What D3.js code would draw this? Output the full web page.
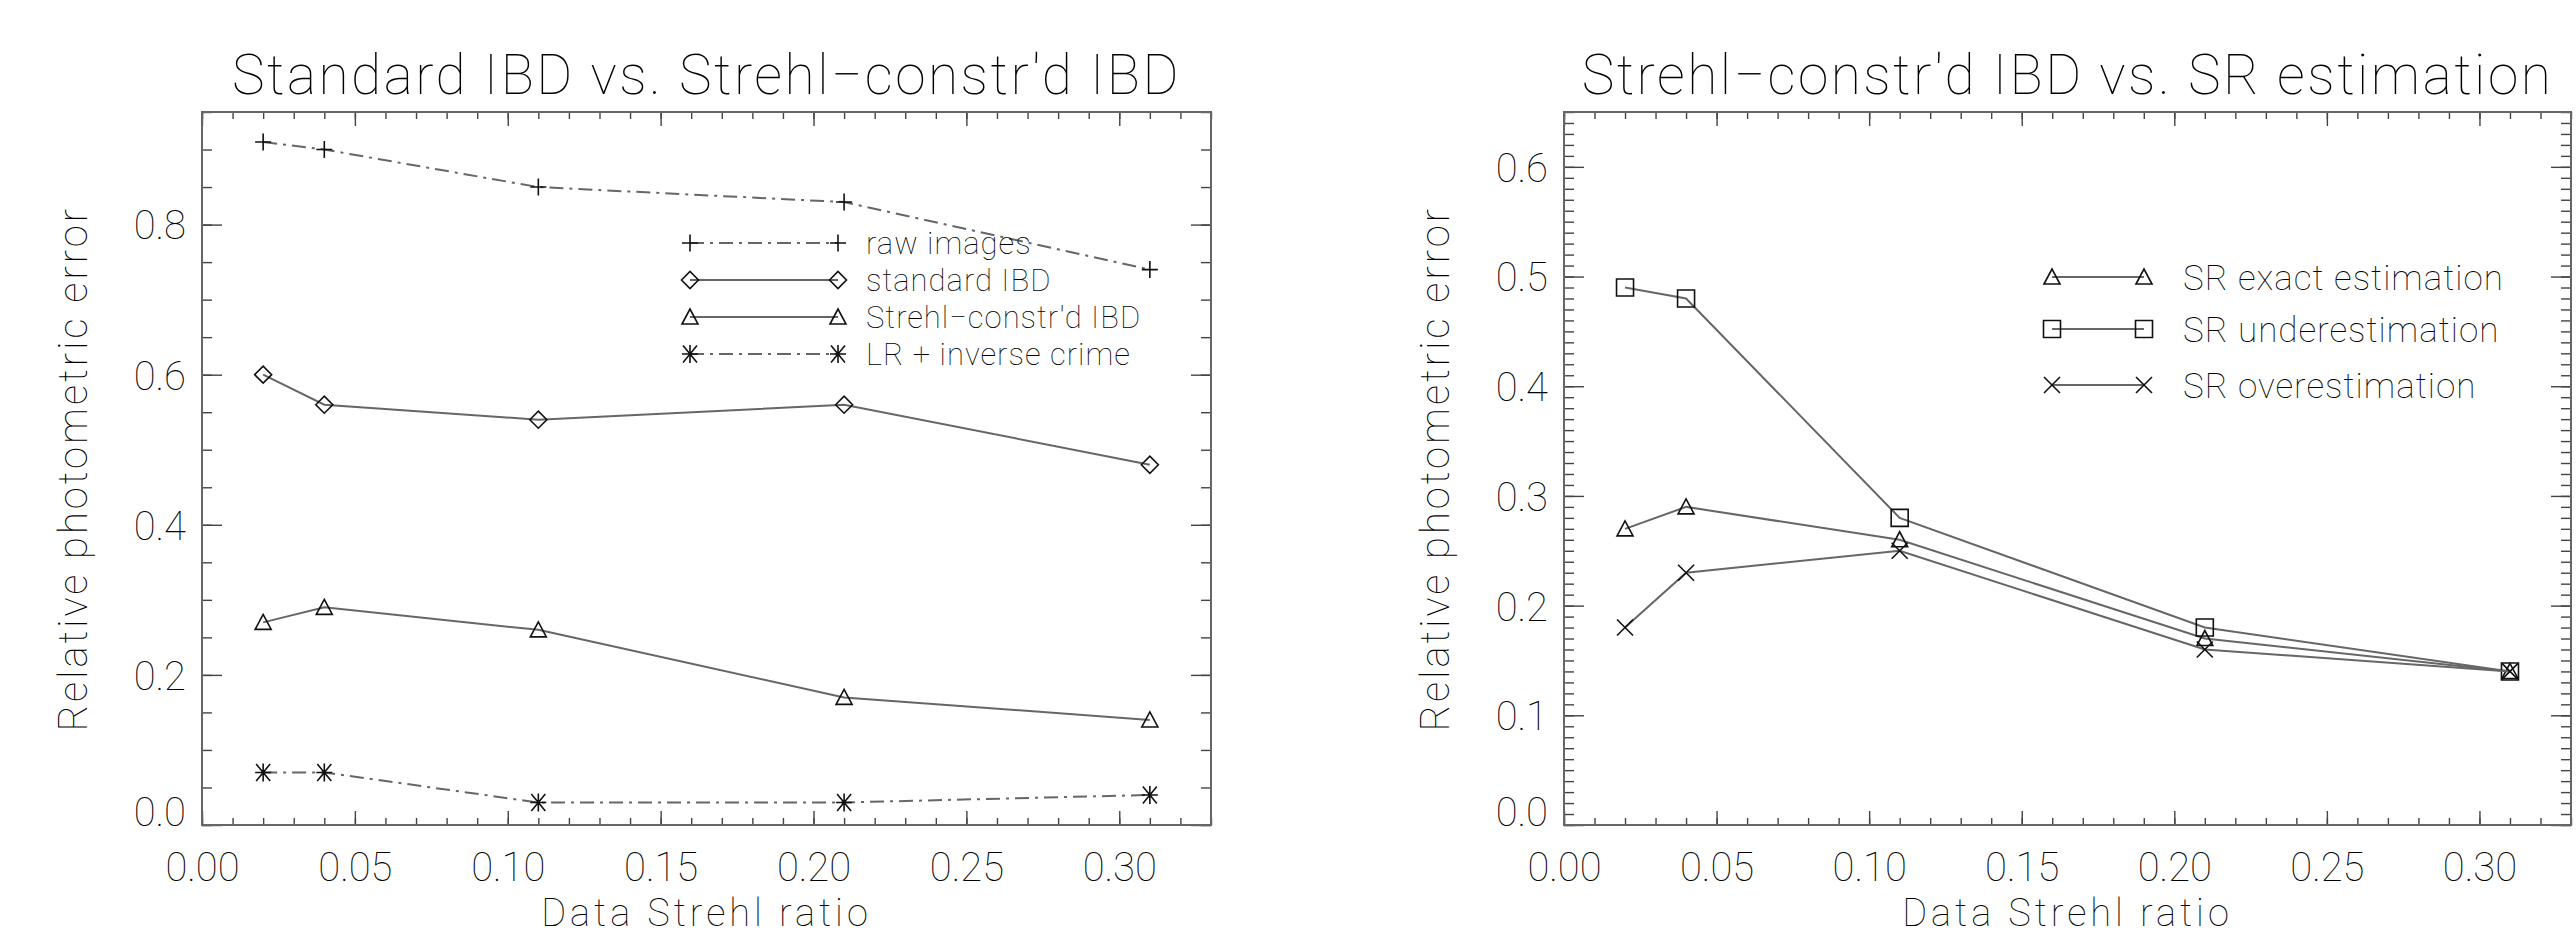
<!DOCTYPE html>
<html>
<head>
<meta charset="utf-8">
<script src="https://cdn.jsdelivr.net/npm/d3@7"></script>
<style>
  body { margin: 0; background: #fff; }
  text { font-family: Roboto, "DejaVu Sans", sans-serif; font-weight: 100; fill: #000; }
</style>
</head>
<body>
<div id="chart"></div>
<script>
// Data
const strehl = [0.02, 0.04, 0.11, 0.21, 0.31];

// left panel
const rawImages = [0.91, 0.90, 0.85, 0.83, 0.74];
const standardIBD = [0.60, 0.56, 0.54, 0.56, 0.48];
const strehlIBD = [0.27, 0.29, 0.26, 0.17, 0.14];
const lrCrime = [0.07, 0.07, 0.03, 0.03, 0.04];

// right panel
const srExact = [0.27, 0.29, 0.26, 0.17, 0.14];
const srUnder = [0.49, 0.48, 0.28, 0.18, 0.14];
const srOver = [0.18, 0.23, 0.25, 0.16, 0.14];

const xTicks = [0, 0.05, 0.1, 0.15, 0.2, 0.25, 0.3];
const leftYTicks = [0, 0.2, 0.4, 0.6, 0.8];
const rightYTicks = [0, 0.1, 0.2, 0.3, 0.4, 0.5, 0.6];

const w = 2576;
const h = 935;
const plotTop = 112;
const plotBottom = 825;

const svg = d3
  .select("#chart")
  .append("svg")
  .attr("width", w)
  .attr("height", h)
  .style("display", "block");

// marker shapes, IDL style
const markers = {
  plus: "M-8,0H8M0,-8.5V8.5",
  diamond: "M-8.5,0L0,-8.5L8.5,0L0,8.5Z",
  triangle: "M-8,7L0,-8L8,7Z",
  asterisk: "M-8,0H8M0,-9V9M-7,-8.5L7,8.5M-7,8.5L7,-8.5",
  square: "M-8.5,-8.5H8.5V8.5H-8.5Z",
  cross: "M-8,-8L8,8M-8,8L8,-8",
};
const dashDot = "14,6,3,6";

function drawMarker(g, type, x, y) {
  g.append("path")
    .attr("d", markers[type])
    .attr("transform", `translate(${x},${y})`)
    .attr("fill", "none")
    .attr("stroke", "#111")
    .attr("stroke-width", 1.6);
}

function drawPanel(p) {
  const g = svg.append("g");

  const xScale = d3.scaleLinear().domain([0, 0.33]).range([p.left, p.right]);
  const yScale = d3.scaleLinear().domain([0, p.yMax]).range([plotBottom, plotTop]);

  // minor ticks
  const minorX = xScale.ticks(33);
  const minorY = yScale.ticks(p.yMinorCount);

  const axes = [
    { a: d3.axisBottom(xScale), t: `translate(0,${plotBottom})`, len: 14, vals: xTicks, minor: minorX },
    { a: d3.axisTop(xScale), t: `translate(0,${plotTop})`, len: 14, vals: xTicks, minor: minorX },
    { a: d3.axisLeft(yScale), t: `translate(${p.left},0)`, len: 20, vals: p.yTicks, minor: minorY },
    { a: d3.axisRight(yScale), t: `translate(${p.right},0)`, len: 20, vals: p.yTicks, minor: minorY },
  ];
  axes.forEach((ax) => {
    const gen = ax.a;
    g.append("g")
      .attr("transform", ax.t)
      .call(gen.tickValues(ax.minor).tickSize(-ax.len / 2).tickFormat(""))
      .call((s) => s.select(".domain").remove())
      .selectAll("line")
      .attr("stroke", "#444")
      .attr("stroke-width", 1.4);
    g.append("g")
      .attr("transform", ax.t)
      .call(gen.tickValues(ax.vals).tickSize(-ax.len))
      .call((s) => s.select(".domain").remove())
      .call((s) => s.selectAll("text").remove())
      .selectAll("line")
      .attr("stroke", "#444")
      .attr("stroke-width", 1.4);
  });

  // tick labels
  g.append("g")
    .attr("transform", `translate(0,${plotBottom})`)
    .call(d3.axisBottom(xScale).tickValues(xTicks).tickSize(0).tickPadding(28).tickFormat(d3.format(".2f")))
    .call((s) => s.select(".domain").remove())
    .selectAll("text")
    .attr("font-size", 40)
    .attr("font-family", null)
    .attr("fill", null);

  g.append("g")
    .attr("transform", `translate(${p.left},0)`)
    .call(d3.axisLeft(yScale).tickValues(p.yTicks).tickSize(0).tickPadding(16).tickFormat(d3.format(".1f")))
    .call((s) => s.select(".domain").remove())
    .selectAll("text")
    .attr("font-size", 40)
    .attr("font-family", null)
    .attr("fill", null)
    .attr("dy", (d) => (d === 0 ? "0em" : "0.36em"));

  // frame
  g.append("rect")
    .attr("x", p.left)
    .attr("y", plotTop)
    .attr("width", p.right - p.left)
    .attr("height", plotBottom - plotTop)
    .attr("fill", "none")
    .attr("stroke", "#666")
    .attr("stroke-width", 2);

  // titles
  g.append("text")
    .attr("x", (p.left + p.right) / 2)
    .attr("y", 94)
    .attr("text-anchor", "middle")
    .attr("font-size", 55)
    .attr("letter-spacing", 2.5)
    .text(p.title);

  g.append("text")
    .attr("x", (p.left + p.right) / 2)
    .attr("y", 926)
    .attr("text-anchor", "middle")
    .attr("font-size", 38)
    .attr("letter-spacing", 4)
    .text("Data Strehl ratio");

  g.append("text")
    .attr("transform", `translate(${p.left - 115},${(plotTop + plotBottom) / 2}) rotate(-90)`)
    .attr("text-anchor", "middle")
    .attr("font-size", 40)
    .attr("letter-spacing", 3)
    .text("Relative photometric error");

  // series
  const line = d3
    .line()
    .x((d) => xScale(d[0]))
    .y((d) => yScale(d[1]));

  p.series.forEach((s) => {
    const pts = strehl.map((x, i) => [x, s.values[i]]);
    g.append("path")
      .attr("d", line(pts))
      .attr("fill", "none")
      .attr("stroke", "#666")
      .attr("stroke-width", 2)
      .attr("stroke-dasharray", s.dashed ? dashDot : null);
    pts.forEach((d) => drawMarker(g, s.marker, xScale(d[0]), yScale(d[1])));
  });

  // legend
  const lg = p.legend;
  p.series.forEach((s, i) => {
    const y = lg.rows[i];
    g.append("line")
      .attr("x1", lg.x1)
      .attr("x2", lg.x2)
      .attr("y1", y)
      .attr("y2", y)
      .attr("stroke", "#666")
      .attr("stroke-width", 2)
      .attr("stroke-dasharray", s.dashed ? dashDot : null);
    drawMarker(g, s.marker, lg.x1, y);
    drawMarker(g, s.marker, lg.x2, y);
    g.append("text")
      .attr("x", lg.tx)
      .attr("y", y + lg.size * 0.36)
      .attr("font-size", lg.size)
      .attr("letter-spacing", 1)
      .text(s.name);
  });
}

drawPanel({
  left: 202,
  right: 1211,
  yMax: 0.95,
  yTicks: leftYTicks,
  yMinorCount: 19,
  title: "Standard IBD vs. Strehl\u2212constr'd IBD",
  series: [
    { name: "raw images", values: rawImages, marker: "plus", dashed: true },
    { name: "standard IBD", values: standardIBD, marker: "diamond", dashed: false },
    { name: "Strehl\u2212constr'd IBD", values: strehlIBD, marker: "triangle", dashed: false },
    { name: "LR + inverse crime", values: lrCrime, marker: "asterisk", dashed: true },
  ],
  legend: { x1: 690, x2: 838, tx: 866, rows: [243, 280, 317, 354], size: 31 },
});

drawPanel({
  left: 1564,
  right: 2571,
  yMax: 0.65,
  yTicks: rightYTicks,
  yMinorCount: 65,
  title: "Strehl\u2212constr'd IBD vs. SR estimation",
  series: [
    { name: "SR exact estimation", values: srExact, marker: "triangle", dashed: false },
    { name: "SR underestimation", values: srUnder, marker: "square", dashed: false },
    { name: "SR overestimation", values: srOver, marker: "cross", dashed: false },
  ],
  legend: { x1: 2052, x2: 2144, tx: 2183, rows: [277, 329, 385], size: 35 },
});
</script>
</body>
</html>
